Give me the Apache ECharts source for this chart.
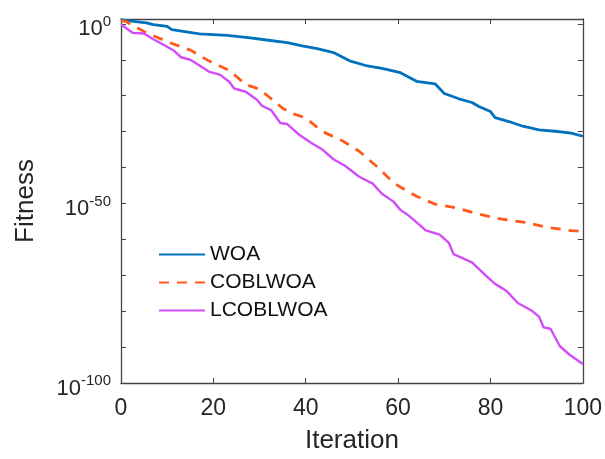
<!DOCTYPE html>
<html>
<head>
<meta charset="utf-8">
<script src="https://cdn.jsdelivr.net/npm/echarts@6/dist/echarts.min.js"></script>
<style>
html,body{margin:0;padding:0;background:#fff;}
#chart{width:605px;height:459px;}
</style>
</head>
<body>
<div id="chart"></div>
<script>
// Data. Fitness is plotted on a log10 scale:
// the y values below are the log10 exponents of the fitness.
const seriesNames = ['WOA', 'COBLWOA', 'LCOBLWOA'];
const xTicks = [0, 20, 40, 60, 80, 100];
const yTickExps = [0, -50, -100];

const woaIter = [0, 5.5, 7, 10, 11, 17, 23, 28, 31.5, 36, 39.5, 42.5, 46, 49.5, 53, 56.5, 60.5, 64, 68, 70, 73, 76, 77.5, 80, 81, 84, 87, 90.5, 94, 97.5, 100];
const woaExp = [1.1, 0.3, -0.2, -0.7, -1.6, -2.8, -3.2, -3.9, -4.5, -5.2, -6.2, -6.9, -8.0, -10.3, -11.6, -12.4, -13.6, -16.0, -16.7, -19.4, -20.8, -21.9, -23.0, -24.4, -26.1, -27.2, -28.5, -29.5, -29.9, -30.4, -31.3];

const coblIter = [0, 1, 5.5, 10.5, 15, 19, 23.5, 27, 30, 32, 35, 37, 40, 43.5, 48, 51.5, 56, 59, 64, 68, 72.5, 77.5, 82.5, 87.5, 92.5, 97.5, 100];
const coblExp = [0.9, 0.7, -2.5, -5.2, -7.3, -10.3, -13.0, -16.9, -18.2, -20.3, -23.5, -24.9, -26.2, -29.9, -32.6, -35.4, -40.4, -44.3, -48.0, -50.2, -51.2, -53.0, -54.4, -55.3, -56.7, -57.6, -57.8];

const lcoblIter = [0, 2.5, 5, 7, 9, 11.5, 13, 15, 17, 19, 21.5, 23.5, 24.5, 27, 29.5, 30.5, 32.5, 34.5, 36, 38.5, 41.5, 43.5, 46, 48.5, 51.5, 54.5, 56.5, 59, 60.5, 62.5, 66, 69, 71, 72, 76, 79, 81, 83.5, 86, 89, 90.5, 91.5, 93, 95, 97, 100];
const lcoblExp = [-0.2, -2.5, -2.7, -4.3, -5.7, -7.5, -9.3, -10.0, -11.6, -13.3, -14.2, -16.2, -18.0, -18.9, -21.2, -22.8, -24.0, -27.6, -27.9, -30.8, -33.4, -34.9, -37.7, -39.5, -42.5, -44.5, -47.3, -49.5, -51.8, -53.6, -57.5, -58.7, -61.0, -64.1, -66.4, -70.1, -72.4, -74.4, -77.8, -79.9, -81.5, -84.5, -84.9, -89.7, -92.0, -94.7];

function pairs(it, ex) { return it.map((x, i) => [x, ex[i]]); }

const FONT = '"Liberation Sans", Arial, sans-serif';
const AXC = '#444444';

const chart = echarts.init(document.getElementById('chart'), null, {renderer: 'canvas'});

function yFmt(v) {
  const r = Math.round(v);
  if (Math.abs(v - r) > 1e-6) return '';
  if (yTickExps.indexOf(r) < 0) return '';
  return '{b|10}{s|' + r + '}';
}

const lineBase = {show: true, onZero: false, lineStyle: {color: AXC, width: 1.3}};
const tickBase = {show: true, inside: true, length: 5, lineStyle: {color: AXC, width: 1}};

const yBase = {
  type: 'value',
  min: -100, max: 1.35, interval: 10,
  axisLine: lineBase,
  axisTick: tickBase,
  splitLine: {show: false}
};

chart.setOption({
  animation: false,
  backgroundColor: '#fff',
  textStyle: {fontFamily: FONT},
  grid: {left: 121, top: 19, right: 21, bottom: 71, containLabel: false},
  legend: {
    orient: 'vertical', left: 153, top: 239,
    itemWidth: 46, itemHeight: 14, itemGap: 7,
    itemStyle: {opacity: 0},
    textStyle: {fontFamily: FONT, fontSize: 21, color: '#111'},
    data: seriesNames
  },
  xAxis: [{
    type: 'value', min: 0, max: 100, interval: 20, position: 'bottom',
    name: 'Iteration', nameLocation: 'middle', nameGap: 45,
    nameTextStyle: {fontFamily: FONT, fontSize: 26, color: '#262626'},
    axisLine: lineBase, axisTick: tickBase,
    axisLabel: {fontFamily: FONT, fontSize: 23, color: '#262626', margin: 14,
      formatter: v => (xTicks.indexOf(v) >= 0 ? String(v) : '')},
    splitLine: {show: false}
  }, {
    type: 'value', min: 0, max: 100, interval: 20, position: 'top',
    axisLine: lineBase, axisTick: tickBase,
    axisLabel: {show: false},
    splitLine: {show: false}
  }],
  yAxis: [Object.assign({}, yBase, {
    position: 'left',
    name: 'Fitness', nameLocation: 'middle', nameGap: 82, nameRotate: 90,
    nameTextStyle: {fontFamily: FONT, fontSize: 26, color: '#262626'},
    axisLabel: {
      show: true, margin: 10, formatter: yFmt, padding: [11, 0, 0, 0],
      rich: {
        b: {fontFamily: FONT, fontSize: 22, lineHeight: 30, color: '#262626'},
        s: {fontFamily: FONT, fontSize: 15, lineHeight: 16, verticalAlign: 'top', color: '#262626'}
      }
    }
  }), Object.assign({}, yBase, {
    position: 'right',
    axisLabel: {show: false}
  })],
  series: [{
    name: seriesNames[0], type: 'line', xAxisIndex: 0, yAxisIndex: 0,
    data: pairs(woaIter, woaExp), showSymbol: false, symbol: 'none',
    lineStyle: {color: '#0072BD', width: 2.8}, itemStyle: {color: '#0072BD'}
  }, {
    name: seriesNames[1], type: 'line', xAxisIndex: 0, yAxisIndex: 0,
    data: pairs(coblIter, coblExp), showSymbol: false, symbol: 'none',
    lineStyle: {color: '#FF5A1A', width: 2.8, type: [10, 8]}, itemStyle: {color: '#FF5A1A'}
  }, {
    name: seriesNames[2], type: 'line', xAxisIndex: 0, yAxisIndex: 0,
    data: pairs(lcoblIter, lcoblExp), showSymbol: false, symbol: 'none',
    lineStyle: {color: '#D24DFA', width: 2.4}, itemStyle: {color: '#D24DFA'}
  }]
});
</script>
</body>
</html>
